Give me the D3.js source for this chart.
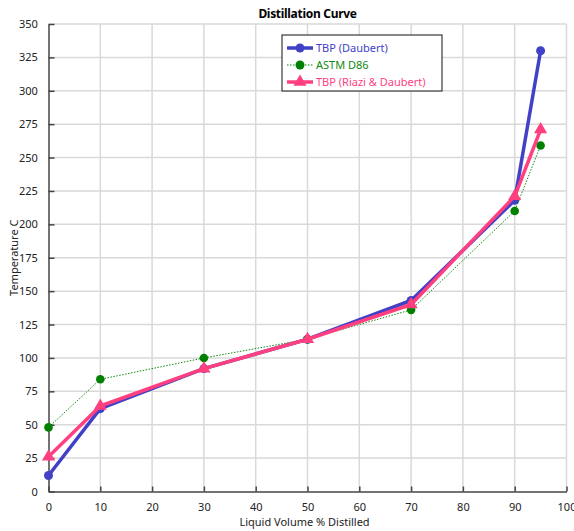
<!DOCTYPE html>
<html>
<head>
<meta charset="utf-8">
<script src="https://cdn.jsdelivr.net/npm/d3@7"></script>
<style>
  body { margin: 0; background: #fff; }
  svg text { font-family: "Noto Sans", "Open Sans", sans-serif; }
</style>
</head>
<body>
<div id="chart-container"></div>
<script>
// Chart data
const volumes = [0, 10, 30, 50, 70, 90, 95];
const tbpDaubert = [12, 62, 92, 114, 143, 218, 330];
const astmD86 = [48, 84, 100, 114, 136, 210, 259];
const tbpRiazi = [26, 64, 92, 114, 140, 221, 271];
const xTicks = [0, 10, 20, 30, 40, 50, 60, 70, 80, 90, 100];
const yTicks = [0, 25, 50, 75, 100, 125, 150, 175, 200, 225, 250, 275, 300, 325, 350];
const seriesNames = ["TBP (Daubert)", "ASTM D86", "TBP (Riazi & Daubert)"];

const W = 574, H = 531;
const margin = { top: 24, right: 7.5, bottom: 39.5, left: 48.5 };
const width = W - margin.left - margin.right;
const height = H - margin.top - margin.bottom;

const svg = d3.select("#chart-container")
    .append("svg")
    .attr("width", W)
    .attr("height", H);

const g = svg.append("g")
    .attr("transform", "translate(" + margin.left + "," + margin.top + ")");

const x = d3.scaleLinear().domain([0, 100]).range([0, width]);
const y = d3.scaleLinear().domain([0, 350]).range([height, 0]);

// Gridlines
g.append("g").selectAll("line")
    .data(xTicks.slice(1))
    .enter().append("line")
    .attr("x1", d => x(d)).attr("x2", d => x(d))
    .attr("y1", 0).attr("y2", height)
    .attr("stroke", "#d9d9d9").attr("stroke-width", 1.5);

g.append("g").selectAll("line")
    .data(yTicks.slice(1))
    .enter().append("line")
    .attr("x1", 0).attr("x2", width)
    .attr("y1", d => y(d)).attr("y2", d => y(d))
    .attr("stroke", "#d9d9d9").attr("stroke-width", 1.5);

// Axes (ticks pointing inward)
const xAxis = g.append("g")
    .attr("transform", "translate(0," + height + ")")
    .call(d3.axisBottom(x).tickValues(xTicks).tickSizeInner(-5).tickSizeOuter(0).tickPadding(12));
const yAxis = g.append("g")
    .call(d3.axisLeft(y).tickValues(yTicks).tickSizeInner(-6).tickSizeOuter(0).tickPadding(14));

[xAxis, yAxis].forEach(a => {
    a.select(".domain").attr("stroke", "#444").attr("stroke-width", 1.5);
    a.selectAll(".tick line").attr("stroke", "#444").attr("stroke-width", 1.5);
    a.selectAll(".tick text").attr("fill", "#222").style("font-size", "11px");
});
yAxis.selectAll(".tick text").attr("dx", "0.3em");

// Series
const line = d3.line().x((d, i) => x(volumes[i])).y(d => y(d));

// TBP (Daubert)
g.append("path").datum(tbpDaubert)
    .attr("d", line).attr("fill", "none")
    .attr("stroke", "#4141c8").attr("stroke-width", 3.5).attr("stroke-linejoin", "round");
g.append("g").selectAll("circle").data(tbpDaubert).enter().append("circle")
    .attr("cx", (d, i) => x(volumes[i])).attr("cy", d => y(d)).attr("r", 4.5)
    .attr("fill", "#4141c8");

// ASTM D86
g.append("path").datum(astmD86)
    .attr("d", line).attr("fill", "none")
    .attr("stroke", "#118811").attr("stroke-width", 1).attr("stroke-dasharray", "1.5,1.5");
g.append("g").selectAll("circle").data(astmD86).enter().append("circle")
    .attr("cx", (d, i) => x(volumes[i])).attr("cy", d => y(d)).attr("r", 4.3)
    .attr("fill", "#008000");

// TBP (Riazi & Daubert)
const tri = d3.symbol().type(d3.symbolTriangle).size(75);
g.append("path").datum(tbpRiazi)
    .attr("d", line).attr("fill", "none")
    .attr("stroke", "#ff3f7f").attr("stroke-width", 3.5).attr("stroke-linejoin", "round");
g.append("g").selectAll("path").data(tbpRiazi).enter().append("path")
    .attr("d", tri)
    .attr("transform", (d, i) => "translate(" + x(volumes[i]) + "," + y(d) + ")")
    .attr("fill", "#ff3f7f");

// Title and axis labels
svg.append("text")
    .attr("x", margin.left + width / 2).attr("y", 18)
    .attr("text-anchor", "middle")
    .style("font-size", "12px").style("font-weight", "bold").style("letter-spacing", "-0.3px")
    .text("Distillation Curve");

svg.append("text")
    .attr("x", margin.left + width / 2 - 3).attr("y", 526)
    .attr("text-anchor", "middle")
    .style("font-size", "11px").attr("fill", "#222")
    .text("Liquid Volume % Distilled");

svg.append("text")
    .attr("transform", "translate(18," + (margin.top + height / 2) + ") rotate(-90)")
    .attr("text-anchor", "middle")
    .style("font-size", "11px").attr("fill", "#222")
    .text("Temperature C");

// Legend
const legend = svg.append("g").attr("transform", "translate(282,35)");
legend.append("rect")
    .attr("width", 160).attr("height", 56)
    .attr("fill", "#fff").attr("stroke", "#111").attr("stroke-width", 1);

const legendColors = ["#4141c8", "#008000", "#ff3f7f"];
const legendText = ["#4141c8", "#118811", "#ff3f7f"];
seriesNames.forEach((name, i) => {
    const ly = 13 + i * 17;
    const item = legend.append("g");
    item.append("line")
        .attr("x1", 5).attr("x2", 31).attr("y1", ly).attr("y2", ly)
        .attr("stroke", legendColors[i])
        .attr("stroke-width", i === 1 ? 1 : 3.5)
        .attr("stroke-dasharray", i === 1 ? "1.5,1.5" : null);
    if (i === 2) {
        item.append("path").attr("d", tri)
            .attr("transform", "translate(18," + ly + ")").attr("fill", legendColors[i]);
    } else {
        item.append("circle").attr("cx", 18).attr("cy", ly).attr("r", 4.5)
            .attr("fill", legendColors[i]);
    }
    item.append("text")
        .attr("x", 34).attr("y", ly).attr("dy", "0.35em")
        .style("font-size", "11px").attr("fill", legendText[i])
        .text(name);
});
</script>
</body>
</html>
